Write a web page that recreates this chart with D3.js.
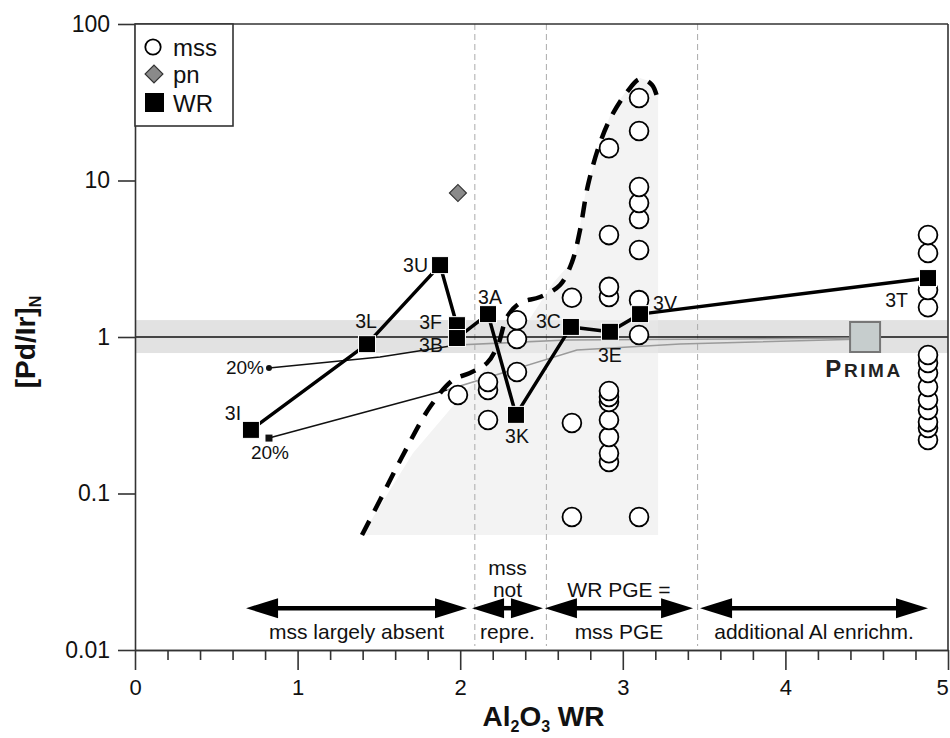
<!DOCTYPE html>
<html><head><meta charset="utf-8">
<script src="https://cdn.jsdelivr.net/npm/d3@7"></script>
<style>
body{margin:0;background:#fff;}
svg{display:block;font-family:"Liberation Sans",Arial,Helvetica,sans-serif;}
</style>
</head><body>
<svg id="chart" width="950" height="738"></svg>
<script>
// ---------- data ----------
const xTicks = [0, 1, 2, 3, 4, 5];
const xTickLabels = ["0", "1", "2", "3", "4", "5"];
const yTicks = [0.01, 0.1, 1, 10, 100];
const yTickLabels = ["0.01", "0.1", "1", "10", "100"];

// mss (open circles)
const mssX = [1.986,
  2.171, 2.171, 2.171,
  2.349, 2.349, 2.349,
  2.687, 2.687, 2.687,
  2.915, 2.915, 2.915, 2.915, 2.915, 2.915, 2.915, 2.915, 2.915, 2.915, 2.915,
  3.10, 3.10, 3.10, 3.10, 3.10, 3.10, 3.10, 3.10, 3.10,
  4.877, 4.877, 4.877, 4.877, 4.877, 4.877, 4.877, 4.877, 4.877, 4.877, 4.877, 4.877, 4.877];
const mssY = [0.426,
  0.516, 0.458, 0.295,
  1.28, 0.97, 0.598,
  1.78, 0.282, 0.0707,
  16.1, 4.48, 2.09, 1.80, 0.452, 0.414, 0.384, 0.295, 0.230, 0.181, 0.159,
  33.7, 20.7, 9.09, 7.18, 5.68, 3.60, 1.72, 1.03, 0.0708,
  4.48, 3.44, 2.0, 1.55, 0.767, 0.682, 0.589, 0.479, 0.396, 0.342, 0.286, 0.262, 0.220];

// pn (grey diamond)
const pnX = [1.986];
const pnY = [8.32];

// WR (black squares, joined)
const wrNames = ["3I", "3L", "3U", "3F", "3B", "3A", "3K", "3C", "3E", "3V", "3T"];
const wrX = [0.713, 1.427, 1.876, 1.98, 1.98, 2.171, 2.343, 2.681, 2.921, 3.106, 4.877];
const wrY = [0.255, 0.90, 2.88, 1.19, 0.985, 1.40, 0.318, 1.16, 1.08, 1.40, 2.38];

// PRIMA reference
const primaX = [4.49];
const primaY = [1.0];

// model mixing lines (20% -> PRIMA)
const upperLineX = [0.824, 1.507, 1.980, 2.657, 4.490];
const upperLineY = [0.634, 0.745, 0.889, 0.957, 0.985];
const upperBlackCount = 3;
const lowerLineX = [0.824, 1.919, 2.718, 3.352, 4.490];
const lowerLineY = [0.226, 0.458, 0.826, 0.902, 0.971];
const lowerBlackCount = 2;

// dashed envelope curve
const curveX = [1.396, 1.507, 1.642, 1.814, 1.956, 2.060, 2.165, 2.232, 2.288, 2.368, 2.491, 2.614, 2.688, 2.737, 2.786, 2.860, 2.934, 3.026, 3.106, 3.180, 3.223];
const curveY = [0.0543, 0.0908, 0.171, 0.357, 0.531, 0.589, 0.682, 0.889, 1.34, 1.65, 1.80, 2.15, 3.02, 4.83, 9.36, 17.4, 26.2, 36.8, 44.5, 40.8, 30.4];

// shaded mss field
const fieldX = [1.396, 1.710, 1.919, 2.183, 2.411, 2.571, 2.706, 2.768, 2.860, 2.934, 3.026, 3.106, 3.180, 3.217, 3.217];
const fieldY = [0.0543, 0.1815, 0.327, 0.682, 1.229, 2.213, 3.198, 8.08, 17.4, 28.2, 37.8, 45.2, 42.6, 35.2, 0.0543];

// chondritic band
const bandLow = 0.79, bandHigh = 1.28;
const refLine = 1;

// region boundaries and arrows
const boundaries = [2.09, 2.53, 3.46];
const regionStart = [0.683, 2.073, 2.521, 3.475];
const regionEnd = [2.042, 2.509, 3.432, 4.877];
const regionAbove = [[], ["mss", "not"], ["WR PGE ="], []];
const regionBelow = ["mss largely absent", "repre.", "mss PGE", "additional Al enrichm."];
const arrowLevel = 0.0185;

// ---------- layout / style (not data) ----------
const M = {left: 135, right: 948, top: 24, bottom: 650};
const wrLabelOffsets = [
  [-18, -17, "middle"], [-1, -23, "middle"], [-12, 0, "end"], [-15, -3, "end"],
  [-14, 7, "end"], [2, -17, "middle"], [1, 21, "middle"], [-10, -6, "end"],
  [0, 23, "middle"], [13, -11, "start"], [-20, 22, "end"]];

const svg = d3.select("#chart");
const x = d3.scaleLinear().domain([0, 5]).range([M.left, M.right]);
const y = d3.scaleLog().domain([0.01, 100]).range([M.bottom, M.top]);

// band
svg.append("rect")
  .attr("x", x(0)).attr("width", x(5) - x(0))
  .attr("y", y(bandHigh)).attr("height", y(bandLow) - y(bandHigh))
  .attr("fill", "#e1e1e1");

// field
const field = fieldX.map((d, i) => [x(d), y(fieldY[i])]);
svg.append("path")
  .attr("d", d3.line()(field) + "Z")
  .attr("fill", "#f3f3f3");
svg.append("rect")
  .attr("x", x(0)).attr("width", x(5) - x(0))
  .attr("y", y(bandHigh)).attr("height", y(bandLow) - y(bandHigh))
  .attr("fill", "#e1e1e1").attr("opacity", 0.75);

// boundaries
svg.selectAll(".bnd").data(boundaries).enter().append("line")
  .attr("x1", d => x(d)).attr("x2", d => x(d))
  .attr("y1", M.top).attr("y2", M.bottom - 4)
  .attr("stroke", "#aaa").attr("stroke-width", 1).attr("stroke-dasharray", "6,4");

// ref line at 1
svg.append("line")
  .attr("x1", x(0)).attr("x2", x(5)).attr("y1", y(refLine)).attr("y2", y(refLine))
  .attr("stroke", "#111").attr("stroke-width", 1.5);

// model lines
const lineGen = d3.line().x(d => x(d[0])).y(d => y(d[1]));
function modelLine(xs, ys, nBlack) {
  const pts = xs.map((d, i) => [d, ys[i]]);
  svg.append("path").attr("d", lineGen(pts.slice(nBlack - 1)))
    .attr("fill", "none").attr("stroke", "#9a9a9a").attr("stroke-width", 1.6);
  svg.append("path").attr("d", lineGen(pts.slice(0, nBlack)))
    .attr("fill", "none").attr("stroke", "#111").attr("stroke-width", 1.6);
}
modelLine(upperLineX, upperLineY, upperBlackCount);
modelLine(lowerLineX, lowerLineY, lowerBlackCount);
svg.append("circle").attr("cx", x(upperLineX[0])).attr("cy", y(upperLineY[0])).attr("r", 3).attr("fill", "#111");
svg.append("rect").attr("x", x(lowerLineX[0]) - 3.5).attr("y", y(lowerLineY[0]) - 3.5)
  .attr("width", 7).attr("height", 7).attr("fill", "#111");
svg.append("text").attr("x", x(upperLineX[0]) - 5).attr("y", y(upperLineY[0]))
  .attr("text-anchor", "end").attr("dominant-baseline", "central")
  .attr("font-size", 19).attr("fill", "#111").text("20%");
svg.append("text").attr("x", x(lowerLineX[0]) + 1).attr("y", y(lowerLineY[0]) + 14)
  .attr("text-anchor", "middle").attr("dominant-baseline", "central")
  .attr("font-size", 19).attr("fill", "#111").text("20%");

// dashed envelope
svg.append("path")
  .attr("d", d3.line().x(d => x(d[0])).y(d => y(d[1])).curve(d3.curveCatmullRom.alpha(0.5))(curveX.map((d, i) => [d, curveY[i]])))
  .attr("fill", "none").attr("stroke", "#000").attr("stroke-width", 4.5)
  .attr("stroke-dasharray", "16,11");

// WR line
svg.append("path")
  .attr("d", lineGen(wrX.map((d, i) => [d, wrY[i]])))
  .attr("fill", "none").attr("stroke", "#000").attr("stroke-width", 3.5)
  .attr("stroke-linejoin", "round");

// mss circles
const mss = mssX.map((d, i) => ({x: d, y: mssY[i]})).sort((a, b) => a.y - b.y);
svg.selectAll(".mss").data(mss).enter().append("circle")
  .attr("cx", d => x(d.x)).attr("cy", d => y(d.y)).attr("r", 9.4)
  .attr("fill", "#fff").attr("stroke", "#000").attr("stroke-width", 1.8);

// pn diamond
svg.selectAll(".pn").data(pnX).enter().append("path")
  .attr("transform", (d, i) => `translate(${x(d)},${y(pnY[i])}) rotate(45)`)
  .attr("d", "M-6,-6H6V6H-6Z")
  .attr("fill", "#8a8a8a").attr("stroke", "#333").attr("stroke-width", 1.2);

// WR squares
svg.selectAll(".wr").data(wrX).enter().append("rect")
  .attr("x", d => x(d) - 8.5).attr("y", (d, i) => y(wrY[i]) - 8.5)
  .attr("width", 17).attr("height", 17)
  .attr("fill", "#000").attr("stroke", "#fff").attr("stroke-width", 1);
svg.selectAll(".wrl").data(wrNames).enter().append("text")
  .attr("x", (d, i) => x(wrX[i]) + wrLabelOffsets[i][0])
  .attr("y", (d, i) => y(wrY[i]) + wrLabelOffsets[i][1])
  .attr("text-anchor", (d, i) => wrLabelOffsets[i][2])
  .attr("dominant-baseline", "central")
  .attr("font-size", 19.5).attr("fill", "#111").text(d => d);

// PRIMA
svg.append("rect")
  .attr("x", x(primaX[0]) - 15).attr("y", y(primaY[0]) - 15)
  .attr("width", 30).attr("height", 30)
  .attr("fill", "#c6cdcd").attr("stroke", "#777").attr("stroke-width", 2);
const pt = svg.append("text").attr("x", x(primaX[0]) - 1).attr("y", y(primaY[0]) + 40)
  .attr("text-anchor", "middle").attr("font-weight", "bold").attr("fill", "#222")
  .attr("letter-spacing", 2.6);
pt.append("tspan").attr("font-size", 24).text("P");
pt.append("tspan").attr("font-size", 19).text("RIMA");

// region arrows
regionStart.forEach((s, i) => {
  const x1 = x(s), x2 = x(regionEnd[i]), yy = y(arrowLevel);
  const hl = 32, hh = 10;
  svg.append("line").attr("x1", x1 + hl - 1).attr("x2", x2 - hl + 1).attr("y1", yy).attr("y2", yy)
    .attr("stroke", "#000").attr("stroke-width", 4.5);
  svg.append("path").attr("d", `M${x1},${yy}L${x1 + hl},${yy - hh}L${x1 + hl},${yy + hh}Z`).attr("fill", "#000");
  svg.append("path").attr("d", `M${x2},${yy}L${x2 - hl},${yy - hh}L${x2 - hl},${yy + hh}Z`).attr("fill", "#000");
  const cx = (x1 + x2) / 2;
  const above = regionAbove[i];
  above.forEach((t, j) => {
    svg.append("text").attr("x", cx).attr("y", yy - 19 - (above.length - 1 - j) * 22)
      .attr("text-anchor", "middle").attr("dominant-baseline", "central")
      .attr("font-size", 21).attr("fill", "#111").text(t);
  });
  svg.append("text").attr("x", cx).attr("y", yy + 23)
    .attr("text-anchor", "middle").attr("dominant-baseline", "central")
    .attr("font-size", 21).attr("fill", "#111").text(regionBelow[i]);
});

// axes
const axisColor = "#333";
const gx = svg.append("g").attr("transform", `translate(0,${M.bottom})`)
  .call(d3.axisBottom(x).tickValues(xTicks).tickFormat((d, i) => xTickLabels[i]).tickSize(20).tickPadding(9).tickSizeOuter(0));
const minor = d3.range(1, 25).map(d => d * 0.2).filter(d => Math.abs(d - Math.round(d)) > 1e-6);
const gxm = svg.append("g").attr("transform", `translate(0,${M.bottom})`)
  .call(d3.axisBottom(x).tickValues(minor).tickFormat("").tickSize(10).tickSizeOuter(0));
const gy = svg.append("g").attr("transform", `translate(${M.left},0)`)
  .call(d3.axisLeft(y).tickValues(yTicks).tickFormat((d, i) => yTickLabels[i]).tickSize(17).tickPadding(8).tickSizeOuter(0));
[gx, gxm, gy].forEach(g => {
  g.selectAll("path.domain").attr("stroke", axisColor).attr("stroke-width", 1.6);
  g.selectAll(".tick line").attr("stroke", axisColor).attr("stroke-width", 1.6);
  g.selectAll(".tick text").attr("fill", "#111").attr("font-family", "Liberation Sans, Arial, sans-serif");
});
gx.selectAll(".tick text").attr("font-size", 22);
gx.selectAll(".tick text").filter(d => d === 5).attr("dx", -6);
gy.selectAll(".tick text").attr("font-size", 23);
svg.append("line").attr("x1", M.left).attr("x2", M.right).attr("y1", M.top).attr("y2", M.top)
  .attr("stroke", axisColor).attr("stroke-width", 1.6);
svg.append("line").attr("x1", M.right).attr("x2", M.right).attr("y1", M.top).attr("y2", M.bottom)
  .attr("stroke", axisColor).attr("stroke-width", 1.6);

// axis titles
const xt = svg.append("text").attr("x", (M.left + M.right) / 2 + 2).attr("y", 726)
  .attr("text-anchor", "middle").attr("font-weight", "bold").attr("font-size", 28).attr("fill", "#111");
xt.append("tspan").text("Al");
xt.append("tspan").attr("font-size", 16).attr("dy", 6).text("2");
xt.append("tspan").attr("dy", -6).text("O");
xt.append("tspan").attr("font-size", 16).attr("dy", 6).text("3");
xt.append("tspan").attr("dy", -6).text(" WR");

const yt = svg.append("text").attr("transform", `translate(35,342) rotate(-90)`)
  .attr("text-anchor", "middle").attr("font-weight", "bold").attr("font-size", 28).attr("fill", "#111");
yt.append("tspan").text("[Pd/Ir]");
yt.append("tspan").attr("font-size", 16).attr("dy", 6).text("N");

// legend
const lg = svg.append("g");
lg.append("rect").attr("x", M.left).attr("y", M.top).attr("width", 98).attr("height", 102)
  .attr("fill", "#fff").attr("stroke", axisColor).attr("stroke-width", 1.6);
lg.append("circle").attr("cx", 153).attr("cy", 47).attr("r", 7.7)
  .attr("fill", "#fff").attr("stroke", "#000").attr("stroke-width", 1.8);
lg.append("path").attr("transform", "translate(154,74) rotate(45)").attr("d", "M-6.3,-6.3H6.3V6.3H-6.3Z")
  .attr("fill", "#8a8a8a").attr("stroke", "#333").attr("stroke-width", 1.2);
lg.append("rect").attr("x", 145).attr("y", 93).attr("width", 19).attr("height", 19).attr("fill", "#000");
[["mss", 47], ["pn", 74], ["WR", 103]].forEach(([t, yy]) => {
  lg.append("text").attr("x", 173).attr("y", yy).attr("dominant-baseline", "central")
    .attr("font-size", 24).attr("fill", "#111").text(t);
});
</script>
</body></html>
